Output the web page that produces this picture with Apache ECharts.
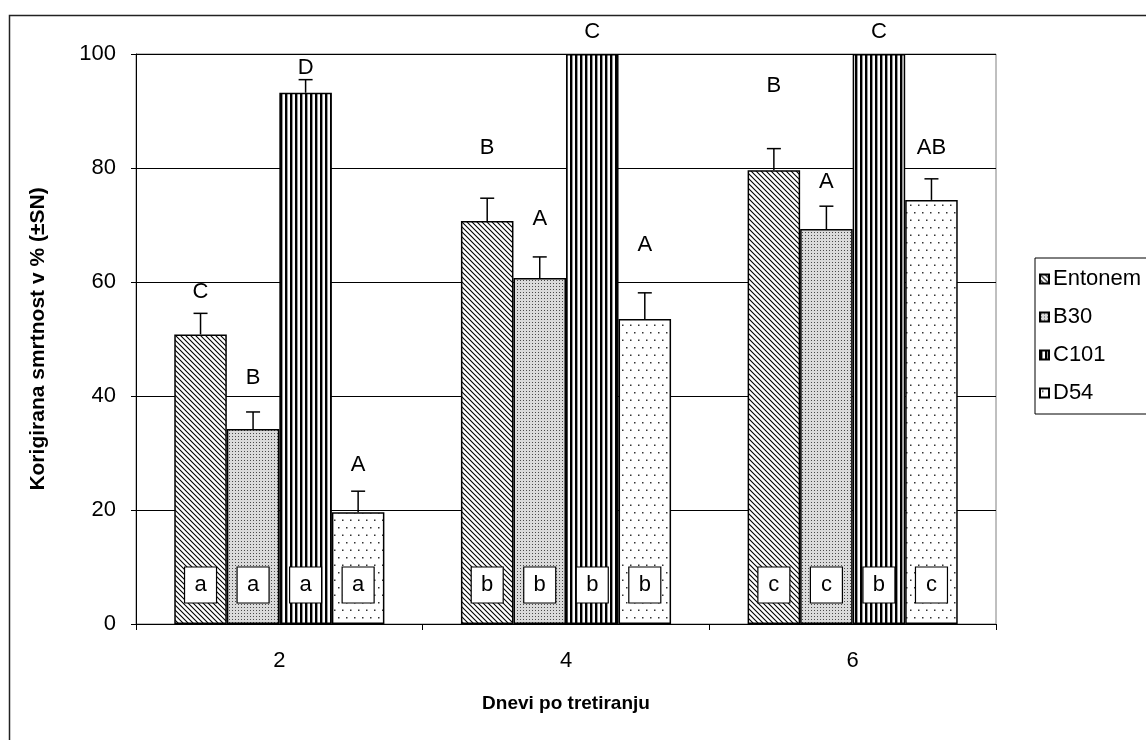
<!DOCTYPE html>
<html>
<head>
<meta charset="utf-8">
<script src="https://cdn.jsdelivr.net/npm/echarts@6/dist/echarts.min.js"></script>
<style>
  html, body { margin: 0; padding: 0; background: #fff; }
  #chart { width: 1146px; height: 740px; }
</style>
</head>
<body>
<div id="chart"></div>
<script>
// Days after treatment (category axis)
const days = ['2', '4', '6'];
const seriesNames = ['Entonem', 'B30', 'C101', 'D54'];

// Corrected mortality (%) per product
const entonem = [50.8, 70.7, 79.6];
const b30 = [34.2, 60.7, 69.3];
const c101 = [93.2, 100, 100];
const d54 = [19.6, 53.5, 74.4];

// Standard error (upper whisker)
const entonemSE = [3.7, 4.0, 3.8];
const b30SE = [3.0, 3.7, 4.0];
const c101SE = [2.3, 0, 0];
const d54SE = [3.7, 4.6, 3.7];

// Significance letters between products within a day
const entonemGroups = ['C', 'B', 'B'];
const b30Groups = ['B', 'A', 'A'];
const c101Groups = ['D', 'C', 'C'];
const d54Groups = ['A', 'A', 'AB'];

// Significance letters between days within a product
const entonemDayGroups = ['a', 'b', 'c'];
const b30DayGroups = ['a', 'b', 'c'];
const c101DayGroups = ['a', 'b', 'b'];
const d54DayGroups = ['a', 'b', 'c'];

// Value axis ticks
const yMin = 0, yMax = 100, yStep = 20;

const values = [entonem, b30, c101, d54];
const errors = [entonemSE, b30SE, c101SE, d54SE];
const upperLetters = [entonemGroups, b30Groups, c101Groups, d54Groups];
const lowerLetters = [entonemDayGroups, b30DayGroups, c101DayGroups, d54DayGroups];

// Pixel lift of each capital letter above its whisker (placement only)
const letterLift = [[21, 50, 63], [34, 38, 24], [12, 22, 22], [26, 48, 31]];

const FONT = '"Liberation Sans", Arial, sans-serif';
const CATEGORY_GAP = 0.267;

// ---- fill patterns ----
function tile(w, h, draw) {
  const c = document.createElement('canvas');
  c.width = w; c.height = h;
  const g = c.getContext('2d');
  g.fillStyle = '#fff';
  g.fillRect(0, 0, w, h);
  draw(g);
  return { image: c, repeat: 'repeat' };
}
const patterns = [
  // dense back-diagonal hatch
  tile(5, 5, g => {
    g.strokeStyle = '#000'; g.lineWidth = 1.1;
    g.beginPath();
    g.moveTo(-1, -1); g.lineTo(6, 6);
    g.moveTo(-1, 4); g.lineTo(1, 6);
    g.moveTo(4, -1); g.lineTo(6, 1);
    g.stroke();
  }),
  // fine dotted grey
  tile(3, 3, g => {
    g.fillStyle = '#dadada'; g.fillRect(0, 0, 3, 3);
    g.fillStyle = '#4a4a4a'; g.fillRect(1, 1, 1, 1);
  }),
  // vertical bold stripes
  tile(5, 4, g => {
    g.fillStyle = '#000'; g.fillRect(0, 0, 2.4, 4);
  }),
  // sparse staggered dots
  tile(8, 15, g => {
    g.fillStyle = '#333';
    g.fillRect(2, 2, 1.5, 1.5);
    g.fillRect(6, 9.5, 1.5, 1.5);
  })
];

const barSeries = seriesNames.map((name, k) => ({
  name: name,
  type: 'bar',
  data: values[k],
  barGap: '0%',
  barCategoryGap: (CATEGORY_GAP * 100) + '%',
  itemStyle: { color: patterns[k], borderColor: '#000', borderWidth: 1.5 },
  emphasis: { disabled: true },
  z: 2
}));

// whiskers, letters and boxed day letters for each product
const annotationSeries = seriesNames.map((name, k) => ({
  type: 'custom',
  clip: false,
  silent: true,
  z: 5,
  data: days.map((d, i) => [i, values[k][i], errors[k][i]]),
  renderItem: function (params, api) {
    const i = params.dataIndex;
    const ci = api.value(0);
    const v = api.value(1);
    const se = api.value(2);
    const base = api.coord([ci, 0]);
    const band = api.size([1, 0])[0];
    const bw = band * (1 - CATEGORY_GAP) / 4;
    const cx = base[0] - 2 * bw + (k + 0.5) * bw;
    const top = api.coord([ci, v])[1];
    const wTop = api.coord([ci, v + se])[1];
    const children = [];
    if (se > 0) {
      children.push({
        type: 'line', shape: { x1: cx, y1: top, x2: cx, y2: wTop },
        style: { stroke: '#000', lineWidth: 1.5 }
      });
      children.push({
        type: 'line', shape: { x1: cx - 7, y1: wTop, x2: cx + 7, y2: wTop },
        style: { stroke: '#000', lineWidth: 1.5 }
      });
    }
    children.push({
      type: 'text',
      x: cx, y: wTop - letterLift[k][i],
      style: {
        text: upperLetters[k][i], font: '22px ' + FONT, fill: '#000',
        align: 'center', verticalAlign: 'middle'
      }
    });
    children.push({
      type: 'rect',
      shape: { x: cx - 16, y: base[1] - 57, width: 32, height: 36 },
      style: { fill: '#fff', stroke: '#000', lineWidth: 1.2 }
    });
    children.push({
      type: 'text',
      x: cx, y: base[1] - 39,
      style: {
        text: lowerLetters[k][i], font: '22px ' + FONT, fill: '#000',
        align: 'center', verticalAlign: 'middle'
      }
    });
    return { type: 'group', children: children };
  }
}));

const chart = echarts.init(document.getElementById('chart'), null, { renderer: 'canvas' });
chart.setOption({
  animation: false,
  backgroundColor: '#fff',
  grid: { left: 136, top: 54, right: 150, bottom: 116, show: true, borderColor: '#808080', borderWidth: 1 },
  legend: {
    data: seriesNames,
    orient: 'vertical',
    left: 1035,
    top: 258,
    padding: [10, 80, 10, 4],
    icon: 'rect',
    itemWidth: 9,
    itemHeight: 9,
    itemGap: 16,
    backgroundColor: '#fff',
    borderColor: '#000',
    borderWidth: 1,
    selectedMode: false,
    textStyle: { fontFamily: FONT, fontSize: 22, color: '#000', lineHeight: 22, padding: [0, 0, 0, -1] }
  },
  xAxis: {
    type: 'category',
    data: days,
    boundaryGap: true,
    axisLine: { lineStyle: { color: '#000', width: 1 } },
    axisTick: { show: true, length: 6, alignWithLabel: false, lineStyle: { color: '#000' } },
    axisLabel: { fontFamily: FONT, fontSize: 22, color: '#000', margin: 26 }
  },
  yAxis: {
    type: 'value',
    min: yMin, max: yMax, interval: yStep,
    axisLine: { show: true, lineStyle: { color: '#000', width: 1 } },
    axisTick: { show: true, length: 5, lineStyle: { color: '#000' } },
    axisLabel: { fontFamily: FONT, fontSize: 22, color: '#000', margin: 20 },
    splitLine: { lineStyle: { color: '#000', width: 1 } }
  },
  graphic: [
    {
      type: 'rect', z: 0, silent: true,
      shape: { x: 9.5, y: 15.5, width: 1300, height: 900 },
      style: { fill: 'none', stroke: '#222', lineWidth: 1.5 }
    },
    {
      type: 'text', x: 566, y: 704, silent: true,
      style: {
        text: 'Dnevi po tretiranju', font: 'bold 19px ' + FONT, fill: '#000',
        align: 'center', verticalAlign: 'middle'
      }
    },
    {
      type: 'text', x: 38, y: 339, rotation: Math.PI / 2, silent: true,
      style: {
        text: 'Korigirana smrtnost v % (±SN)', font: 'bold 21px ' + FONT, fill: '#000',
        align: 'center', verticalAlign: 'middle'
      }
    }
  ],
  series: barSeries.concat(annotationSeries)
});
</script>
</body>
</html>
